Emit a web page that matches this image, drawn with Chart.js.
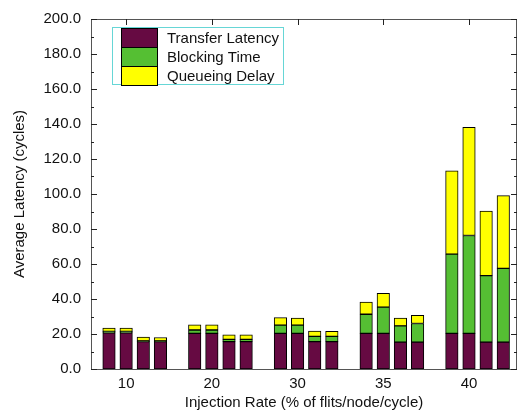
<!DOCTYPE html>
<html>
<head>
<meta charset="utf-8">
<script src="https://cdn.jsdelivr.net/npm/chart.js@4.4.1/dist/chart.umd.min.js"></script>
<style>
  html, body { margin: 0; padding: 0; background: #fff; }
</style>
</head>
<body>
<canvas id="latencyChart" width="518" height="417"></canvas>
<script>
// injection rates, one group of 4 bars each
const rates = ['10', '20', '30', '35', '40'];

// per bar (4 per group, 5 groups)
const transfer = [20.6, 20.6, 15.6, 15.6,  20.4, 20.4, 15.6, 15.6,  20.4, 20.4, 15.6, 15.6,  20.4, 20.4, 15.4, 15.4,  20.4, 20.4, 15.4, 15.4];
const blocking = [0.9, 0.9, 0.5, 0.5,  1.9, 1.9, 1.3, 1.3,  4.7, 4.7, 3.0, 3.0,  10.9, 15.0, 9.2, 10.6,  45.2, 55.9, 38.0, 42.1];
const queueing = [1.9, 1.9, 2.1, 1.9,  3.0, 3.0, 2.6, 2.6,  4.3, 4.0, 3.1, 2.9,  6.9, 7.9, 4.5, 4.7,  47.6, 61.8, 36.9, 41.6];

const seriesNames = ['Transfer Latency', 'Blocking Time', 'Queueing Delay'];
const seriesColors = ['#660a42', '#55bf33', '#ffff00'];

const FONT = 'Liberation Sans, Arial, Helvetica, sans-serif';

// bar i sits in group floor(i/4), with an empty slot after every group
const slot = i => Math.floor(i / 4) * 5 + (i % 4);
const toPoints = arr => arr.map((v, i) => ({ x: slot(i), y: v }));

// frame, inward ticks and the boxed legend
const framePlugin = {
  id: 'frame',
  afterDraw(chart) {
    const { ctx, chartArea: a, scales } = chart;
    ctx.save();
    ctx.strokeStyle = '#555';
    ctx.lineWidth = 1;
    ctx.strokeRect(a.left + 0.5, a.top + 0.5, a.right - a.left - 1, a.bottom - a.top);

    ctx.strokeStyle = '#222';
    ctx.beginPath();
    for (let v = 0; v <= 200; v += 10) {
      const y = Math.round(scales.y.getPixelForValue(v)) + 0.5;
      const len = v % 20 === 0 ? 6 : 3;
      ctx.moveTo(a.left, y); ctx.lineTo(a.left + len, y);
      ctx.moveTo(a.right, y); ctx.lineTo(a.right - len, y);
    }
    scales.x.ticks.forEach(t => {
      const x = Math.round(scales.x.getPixelForValue(t.value)) + 0.5;
      ctx.moveTo(x, a.top); ctx.lineTo(x, a.top + 6);
    });
    ctx.stroke();

    // legend
    const lx = 112, ly = 28, sw = 36, sh = 19;
    ctx.strokeStyle = '#66d6d6';
    ctx.strokeRect(lx + 0.5, ly - 0.5, 171, 57);
    ctx.font = '15px ' + FONT;
    ctx.textBaseline = 'middle';
    chart.data.datasets.forEach((ds, i) => {
      const y = ly + i * sh;
      ctx.fillStyle = ds.backgroundColor;
      ctx.fillRect(lx + 9, y, sw, sh);
      ctx.strokeStyle = '#000';
      ctx.strokeRect(lx + 9.5, y + 0.5, sw, sh);
      ctx.fillStyle = '#111';
      ctx.fillText(ds.label, lx + 55, y + sh / 2 + 1);
    });
    ctx.restore();
  }
};

new Chart(document.getElementById('latencyChart'), {
  type: 'bar',
  data: {
    datasets: [transfer, blocking, queueing].map((arr, i) => ({
      label: seriesNames[i],
      data: toPoints(arr),
      backgroundColor: seriesColors[i],
      borderColor: '#000',
      borderWidth: 1,
      borderSkipped: false,
      barThickness: 12.5,
    }))
  },
  options: {
    responsive: false,
    animation: false,
    layout: { padding: { left: 0, right: 1, top: 13, bottom: 0 } },
    plugins: { legend: { display: false }, tooltip: { enabled: false } },
    scales: {
      x: {
        type: 'linear',
        stacked: true,
        offset: false,
        min: -1.05,
        max: 23.8,
        afterBuildTicks: s => { s.ticks = rates.map((r, g) => ({ value: g * 5 + 1 })); },
        afterFit: s => { s.height = 48; },
        grid: { display: false, drawTicks: false },
        border: { display: false },
        ticks: {
          autoSkip: false,
          maxRotation: 0,
          padding: 6,
          color: '#111',
          font: { family: FONT, size: 15 },
          callback: (v, i) => rates[i]
        },
        title: {
          display: true,
          text: 'Injection Rate (% of flits/node/cycle)',
          color: '#111',
          font: { family: FONT, size: 15 },
          padding: { top: 0, bottom: 5 }
        }
      },
      y: {
        stacked: true,
        min: 0,
        max: 200,
        afterFit: s => { s.width = 91; },
        grid: { display: false, drawTicks: false },
        border: { display: false },
        ticks: {
          stepSize: 20,
          padding: 10,
          color: '#111',
          font: { family: FONT, size: 15 },
          callback: v => v.toFixed(1)
        },
        title: {
          display: true,
          text: 'Average Latency (cycles)',
          color: '#111',
          font: { family: FONT, size: 15 },
          padding: { top: 11, bottom: 0 }
        }
      }
    }
  },
  plugins: [framePlugin]
});
</script>
</body>
</html>
